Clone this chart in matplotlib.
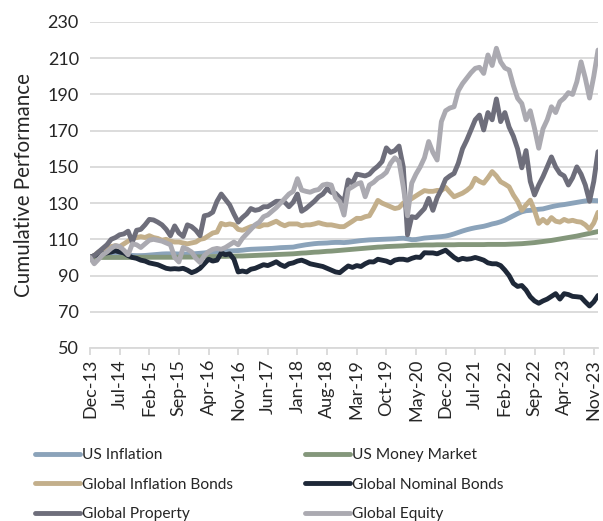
import matplotlib
matplotlib.use("Agg")
import matplotlib.pyplot as plt
import numpy as np

plt.rcParams['font.family'] = ['Lato', 'DejaVu Sans']

# Monthly observations, Dec-13 .. Dec-23 (121 points)
tick_labels = ['Dec-13', 'Jul-14', 'Feb-15', 'Sep-15', 'Apr-16', 'Nov-16', 'Jun-17',
               'Jan-18', 'Aug-18', 'Mar-19', 'Oct-19', 'May-20', 'Dec-20', 'Jul-21',
               'Feb-22', 'Sep-22', 'Apr-23', 'Nov-23']

us_inflation = [
    100, 100.3, 100.6, 100.9, 101.1, 101.3, 101.4, 101.5, 101.4, 101.3, 101.1, 101.0,
    101.0, 101.1, 101.3, 101.5, 101.7, 101.9, 102.0, 102.0, 102.0, 101.9, 101.9, 101.9,
    102.0, 102.1, 102.3, 102.5, 102.8, 103.0, 103.2, 103.3, 103.4, 103.6, 103.7, 103.8,
    104.0, 104.3, 104.5, 104.6, 104.7, 104.8, 104.9, 105.0, 105.2, 105.4, 105.5, 105.6,
    105.7, 106.2, 106.6, 107.0, 107.3, 107.6, 107.8, 107.9, 108.0, 108.2, 108.3, 108.3,
    108.2, 108.4, 108.7, 109.0, 109.3, 109.5, 109.7, 109.8, 109.9, 110.0, 110.1, 110.2,
    110.3, 110.5, 110.6, 110.3, 109.8, 109.9, 110.3, 110.7, 110.9, 111.1, 111.3, 111.5,
    111.8, 112.3, 113.0, 113.8, 114.6, 115.3, 115.9, 116.4, 116.8, 117.2, 117.8, 118.5,
    119.0, 119.7, 120.6, 121.8, 123.0, 124.2, 125.2, 125.8, 126.0, 126.3, 126.6, 126.8,
    127.4, 128.0, 128.5, 128.9, 129.2, 129.6, 130.0, 130.4, 130.8, 131.2, 131.5, 131.4,
    131.3]

us_money_market = [
    100, 100, 100, 100, 100, 100, 100, 100, 100, 100, 100, 100,
    100.1, 100.1, 100.1, 100.1, 100.1, 100.1, 100.1, 100.1, 100.1, 100.2, 100.2, 100.2,
    100.2, 100.3, 100.3, 100.4, 100.4, 100.5, 100.5, 100.6, 100.6, 100.7, 100.7, 100.8,
    100.8, 100.9, 101.0, 101.1, 101.2, 101.3, 101.4, 101.5, 101.6, 101.7, 101.8, 101.9,
    102.0, 102.2, 102.4, 102.5, 102.7, 102.9, 103.0, 103.2, 103.4, 103.5, 103.7, 103.9,
    104.1, 104.3, 104.5, 104.7, 104.9, 105.1, 105.3, 105.5, 105.7, 105.8, 106.0, 106.1,
    106.2, 106.3, 106.4, 106.6, 106.7, 106.8, 106.8, 106.9, 106.9, 106.9, 107.0, 107.0,
    107.0, 107.0, 107.0, 107.1, 107.1, 107.1, 107.1, 107.1, 107.1, 107.1, 107.2, 107.2,
    107.2, 107.2, 107.2, 107.3, 107.4, 107.5, 107.6, 107.8, 108.0, 108.2, 108.5, 108.8,
    109.1, 109.4, 109.8, 110.2, 110.6, 111.0, 111.4, 111.8, 112.3, 112.8, 113.3, 113.8,
    114.3]

global_inflation_bonds = [
    100, 101, 103, 104, 105, 106, 106.5, 106, 107.5, 109, 110.5, 111,
    111.5, 111, 112, 111, 110.5, 109.5, 110, 109, 108.5, 108.5, 108, 107.5,
    108, 108.5, 110, 110.5, 112, 113.5, 114, 118.8, 118, 118.5, 118, 115.5,
    115, 116, 117, 117.5, 117, 118, 118, 119, 120, 118.5, 117.5, 118.5,
    118.5, 118.5, 117.5, 118, 118, 118.5, 119.2, 118.5, 118, 118, 117.5, 117,
    117, 118.5, 120, 121.6, 121.5, 122.5, 123, 127, 131.5, 130, 129, 128,
    127, 127.5, 130, 131, 132.5, 134, 135.5, 136.9, 136.5, 136.5, 137, 137,
    138.7, 136, 133.5, 134.5, 135.5, 137, 139, 143.7, 142, 141, 144, 147.4,
    145, 141.8, 140.5, 139, 134.5, 131, 126, 129, 131.6, 126, 118.8, 121,
    119, 122, 120, 119.5, 121, 120, 120.5, 119.8, 119.5, 118, 115.6, 119,
    124.9]

global_nominal_bonds = [
    100, 101, 101.5, 102, 102.5, 103, 103.7, 103, 102.5, 101, 100, 99.5,
    98.5, 98, 97, 96.5, 96, 95, 94, 93.6, 93.8, 93.6, 94, 93,
    91.6, 92.5, 94, 96.5, 99, 98, 98.5, 102.5, 101.5, 102, 99, 92,
    92.5, 92, 93.5, 94, 95, 96, 95.5, 96.5, 97.6, 96, 95, 96.5,
    97, 98, 98.5, 97.6, 96.5, 96, 95.5, 95, 94, 93, 92, 91.6,
    93.5, 95.3, 94.5, 95.5, 95, 96.5, 97.6, 97.5, 99, 98.5, 98, 97,
    98.5, 99, 99, 98.5, 99.5, 100.2, 100, 102.6, 102.5, 102.5, 102, 103,
    104, 102, 100, 98.6, 99.5, 99, 99.3, 100, 99.3, 98.5, 97, 96.5,
    96.5, 95.5, 93, 90, 85.7, 84, 84.5, 82, 78.3, 76, 74.7, 76,
    77, 78.5, 80, 77, 80, 79.5, 78.5, 78.3, 78, 75.5, 73.2, 75.5,
    79]

global_property = [
    100, 101, 103, 105, 107, 110, 111, 112.5, 113, 114.5, 108.5, 115,
    115.5, 118, 121, 120.7, 119.5, 118, 115.5, 112, 117.4, 113.5, 111.6, 118,
    117, 115, 112, 123, 123.5, 125, 131, 135, 132, 129, 124, 119.5,
    122, 124, 127, 126, 126.5, 128, 128, 129.5, 131, 131, 130.5, 128,
    130.5, 135, 125.5, 127, 129, 131, 133.5, 135, 138, 136, 135.4, 133,
    131, 142.8, 141, 146, 145.5, 145, 146, 148.5, 150.4, 153, 160.5, 158,
    159, 161.5, 150, 112.5, 122.5, 122, 124.5, 127, 132.6, 126, 133, 137.6,
    143.2, 145, 146.4, 152, 160, 164.8, 170.4, 176, 178.6, 170.4, 180, 176,
    187.5, 175, 180, 172, 167, 160, 149.5, 159, 142, 134.5, 140, 144.6,
    150, 155.5, 150, 146.4, 145, 140, 144, 150, 146, 140, 131, 142,
    158.4]

global_equity = [
    100, 96.5, 99, 101.5, 103, 105, 106.5, 106, 104, 101.5, 107.5, 107,
    105.5, 107.5, 109.5, 110, 109.5, 109, 108, 107, 100, 97.5, 105.5, 104.5,
    103, 99.5, 97.2, 101, 103.2, 104.5, 105, 104.5, 105.5, 107, 108.5, 107,
    110.5, 113, 115.5, 118, 119.5, 122.5, 123.5, 125.5, 127.5, 130, 132.5, 135,
    136.5, 143.5, 137.2, 136.5, 136, 137, 137.5, 140, 140.5, 140, 133, 130.8,
    123.4, 137.6, 139, 140.5, 141.3, 133.5, 140, 141.5, 143.7, 145, 147, 152,
    155, 153, 139, 123, 141, 146, 150, 155, 164, 158, 153.8, 175,
    181, 182.5, 183.2, 192, 196, 199, 202, 204.4, 205, 201.6, 211.8, 206,
    215.5, 208, 204.6, 203.5, 195, 187.9, 185, 176, 181, 171.3, 160.3, 171,
    176, 183.2, 180, 186, 188, 191, 190, 197, 208, 199, 188, 200,
    214.5]

series = [
    ("US Inflation", us_inflation, "#8ba3ba"),
    ("US Money Market", us_money_market, "#84977b"),
    ("Global Inflation Bonds", global_inflation_bonds, "#c3af8b"),
    ("Global Nominal Bonds", global_nominal_bonds, "#1e2838"),
    ("Global Property", global_property, "#6e6e7b"),
    ("Global Equity", global_equity, "#abaab1"),
]

fig = plt.figure(figsize=(6.03, 5.21), dpi=100)
ax = fig.add_axes([90/603, 1-348/521, (598-90)/603, (348-22)/521])

handles = {}
for name, vals, col in series:
    x = np.arange(len(vals))
    ln, = ax.plot(x, vals, color=col, lw=3.5, solid_joinstyle='round',
                  solid_capstyle='round', label=name, zorder=3)
    handles[name] = ln

ax.set_ylim(50, 230)
ax.set_yticks(np.arange(50, 231, 20))
ax.set_xlim(0, len(us_inflation) - 1)
ax.set_xticks(np.arange(0, len(tick_labels) * 7, 7))
ax.set_xticklabels(tick_labels, rotation=90)

ax.grid(axis='y', color='#d9d9d9', lw=1.3, zorder=0)
for s in ['left', 'right', 'top']:
    ax.spines[s].set_visible(False)
ax.spines['bottom'].set_color('#d9d9d9')
ax.spines['bottom'].set_linewidth(1.3)
ax.tick_params(axis='y', length=0, labelsize=13, colors='#262626', pad=8)
ax.tick_params(axis='x', length=5, width=1.3, color='#d9d9d9', labelsize=13,
               colors='#262626', pad=3)
ax.set_ylabel('Cumulative Performance', fontsize=14.8, color='#262626', labelpad=10)

order = ["US Inflation", "Global Inflation Bonds", "Global Property",
         "US Money Market", "Global Nominal Bonds", "Global Equity"]
leg = fig.legend([handles[n] for n in order], order, ncol=2,
                 loc='upper left', bbox_to_anchor=(35/603, 1-448/521),
                 frameon=False, fontsize=11.2, handlelength=2.9, handletextpad=0.13,
                 columnspacing=4.6, labelspacing=1.0, borderaxespad=0, borderpad=0)
for t in leg.get_texts():
    t.set_color('#262626')
for h in leg.legend_handles:
    h.set_linewidth(3.5)

fig.savefig('out.png', dpi=100)
